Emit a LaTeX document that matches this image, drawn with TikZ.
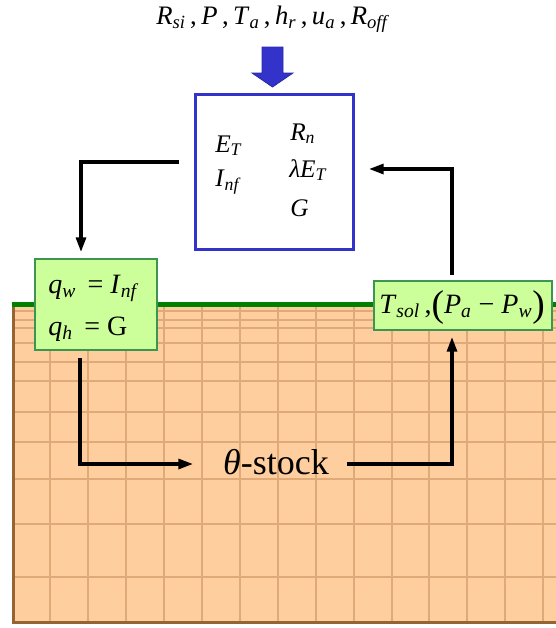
\documentclass[tikz,border=0pt]{standalone}
\usepackage{fontspec}
\setmainfont{Liberation Serif}
\usetikzlibrary{arrows.meta}
\definecolor{soil}{RGB}{255,206,158}
\definecolor{gridc}{RGB}{222,170,120}
\definecolor{soiledge}{RGB}{150,100,50}
\definecolor{grass}{RGB}{0,128,0}
\definecolor{boxblue}{RGB}{51,51,204}
\definecolor{lgreen}{RGB}{204,255,153}
\definecolor{gborder}{RGB}{60,150,80}
\newcommand{\mv}[2]{\textit{#1}\textsubscript{\textit{#2}}}
\tikzset{
  conn/.style={line width=2.3pt, -{Triangle[length=11pt,width=7.5pt]}},
  gbox/.style={draw=gborder, line width=1.6pt, fill=lgreen, inner sep=0pt},
  lbl/.style={inner sep=0pt, anchor=base west},
}
\begin{document}
\begin{tikzpicture}[x=0.75pt,y=-0.75pt]
\useasboundingbox (0,0) rectangle (556,628);
% ground
\fill[soil] (12,305) rectangle (556,623);
\foreach \x in {50,88,126,164,202,240,278,316,354,392,429,467,505,543}
  \draw[gridc, line width=1.1pt] (\x,305) -- (\x,622);
\foreach \y in {311,320,328,343,362,381,412,442,479,524,577}
  \draw[gridc, line width=1.1pt] (13,\y) -- (556,\y);
\draw[soiledge, line width=2.4pt] (13.5,305) -- (13.5,622.5) -- (556,622.5);
\draw[grass, line width=4pt] (12,304.5) -- (556,304.5);
% top inputs
\node[inner sep=0pt, anchor=base] (inputs) at (273,24)
  {\fontsize{20}{22}\selectfont \mv{R}{si}\,,\,\textit{P}\,,\,\mv{T}{a}\,,\,\mv{h}{r}\,,\,\mv{u}{a}\,,\,\mv{R}{off}};
% blue block arrow
\fill[boxblue, draw=boxblue!80!black, line width=0.6pt]
  (262,47) -- (283,47) -- (283,73) -- (293,73) -- (272.5,87) -- (252,73) -- (262,73) -- cycle;
% blue box
\node[draw=boxblue, line width=2.3pt, inner sep=0pt,
      minimum width=118pt, minimum height=116pt] (box) at (274.5,172) {};
\node[lbl] (et) at (215,152) {\fontsize{19}{22}\selectfont \mv{E}{T}};
\node[lbl] (inf) at (215,186) {\fontsize{19}{22}\selectfont \mv{I}{nf}};
\node[lbl] (rn) at (290,140) {\fontsize{19}{22}\selectfont \mv{R}{n}};
\node[lbl] (let) at (289,177) {\fontsize{19}{22}\selectfont \textit{λ}\mv{E}{T}};
\node[lbl] (g) at (290,216) {\fontsize{19}{22}\selectfont \textit{G}};
% q box
\node[gbox, minimum width=91.5pt, minimum height=68pt] (qbox) at (96,304.5) {};
\node[lbl] (qw) at (48,293) {\fontsize{21}{24}\selectfont \mv{q}{w}\, = \mv{I}{nf}};
\node[lbl] (qh) at (48,335) {\fontsize{21}{24}\selectfont \mv{q}{h}\, = G};
% T_sol box
\node[gbox, minimum width=133.5pt, minimum height=37pt] (tbox) at (463,305.5) {};
\node[inner sep=0pt, anchor=base] (tsol) at (462,313)
  {\fontsize{21}{24}\selectfont \mv{T}{sol}\,,\raisebox{-0.12em}{\fontsize{28}{30}\selectfont (}\mv{P}{a} − \mv{P}{w}\raisebox{-0.12em}{\fontsize{28}{30}\selectfont )}};
% theta stock
\node[inner sep=0pt, anchor=base] (stock) at (276,474)
  {\fontsize{27}{30}\selectfont \textit{θ}-stock};
% connectors
\coordinate (a0) at (179,162);
\coordinate (a1) at (81,162);
\coordinate (a2) at (81,252);
\draw[conn] (a0) -- (a1) -- (a2);
\coordinate (b0) at (452,275);
\coordinate (b1) at (452,169);
\coordinate (b2) at (369,169);
\draw[conn] (b0) -- (b1) -- (b2);
\coordinate (c0) at (80,358);
\coordinate (c1) at (80,464);
\coordinate (c2) at (193,464);
\draw[conn] (c0) -- (c1) -- (c2);
\coordinate (d0) at (347,464);
\coordinate (d1) at (452,464);
\coordinate (d2) at (452,337);
\draw[conn] (d0) -- (d1) -- (d2);
\end{tikzpicture}
\end{document}
